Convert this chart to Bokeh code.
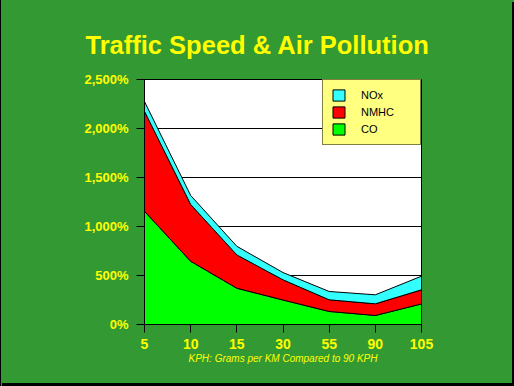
import numpy as np
from bokeh.plotting import figure
from bokeh.models import Range1d, FixedTicker, Legend, LegendItem, GlobalInlineStyleSheet
from bokeh.embed import file_html
from bokeh.resources import INLINE

# ---- data ----
speeds = ["5", "10", "15", "30", "55", "90", "105"]
co = [1155, 645, 370, 250, 133, 92, 210]
nmhc = [1020, 580, 340, 206, 119, 119, 144]
nox = [100, 92, 88, 74, 85, 92, 139]
y_ticks = [0, 500, 1000, 1500, 2000, 2500]
y_labels = ["0%", "500%", "1,000%", "1,500%", "2,000%", "2,500%"]
series_names = ["CO", "NMHC", "NOx"]
series_colors = ["#00FF00", "#FF0000", "#33FFFF"]

BG = "#339933"
YEL = "#FFFF00"
FONT = "Liberation Sans"

x = list(range(len(speeds)))

p = figure(width=514, height=386, output_backend="svg", toolbar_location=None,
           x_range=Range1d(0, len(speeds) - 1), y_range=Range1d(0, 2500),
           min_border_left=144, min_border_right=93, min_border_top=79, min_border_bottom=62,
           background_fill_color="white", border_fill_color=BG)
p.outline_line_color = "black"
p.outline_line_alpha = 1

# title
p.title.text = "Traffic Speed & Air Pollution"
p.title.text_color = YEL
p.title.text_font = FONT
p.title.text_font_style = "bold"
p.title.text_font_size = "25.5px"
p.title.align = "left"
p.title.offset = -59
p.title.standoff = 42

# stacked areas
base = np.zeros(len(x))
rends = {}
for name, vals, col in zip(series_names, [co, nmhc, nox], series_colors):
    top = base + np.array(vals, dtype=float)
    xs = x + x[::-1]
    ys = list(top) + list(base[::-1])
    rends[name] = p.patch(xs, ys, fill_color=col, fill_alpha=1, line_color="black", line_width=1)
    base = top

legend = Legend(items=[LegendItem(label=n, renderers=[rends[n]]) for n in ["NOx", "NMHC", "CO"]],
                location="top_right", margin=0, padding=8, spacing=3,
                glyph_width=15, glyph_height=14, label_height=14, label_width=51,
                label_standoff=15, label_text_font=FONT, label_text_font_size="11px",
                label_text_color="black", border_line_color="black", border_line_width=1,
                background_fill_color="#FFFF80", background_fill_alpha=1)
p.add_layout(legend)

# axes
for ax in (p.xaxis, p.yaxis):
    ax.axis_line_color = "black"
    ax.major_tick_line_color = "black"
    ax.major_tick_out = 8
    ax.major_tick_in = 0
    ax.minor_tick_line_color = None
    ax.major_label_text_color = YEL
    ax.major_label_text_font = FONT
    ax.major_label_text_font_style = "bold"

p.xaxis.ticker = FixedTicker(ticks=x)
p.xaxis.major_label_overrides = {i: s for i, s in zip(x, speeds)}
p.xaxis.major_label_text_font_size = "14px"
p.xaxis.major_label_standoff = 6
p.xaxis.axis_label = "KPH: Grams per KM Compared to 90 KPH"
p.xaxis.axis_label_text_color = YEL
p.xaxis.axis_label_text_font = FONT
p.xaxis.axis_label_text_font_style = "italic"
p.xaxis.axis_label_text_font_size = "10px"
p.xaxis.axis_label_standoff = 1

p.yaxis.ticker = FixedTicker(ticks=y_ticks)
p.yaxis.major_label_overrides = {t: l for t, l in zip(y_ticks, y_labels)}
p.yaxis.major_label_text_font_size = "13px"
p.yaxis.major_label_standoff = 8

p.xgrid.visible = False
p.ygrid.ticker = FixedTicker(ticks=y_ticks)
p.ygrid.grid_line_color = "black"
p.ygrid.grid_line_alpha = 1

p.stylesheets = [GlobalInlineStyleSheet(css="""
html, body { background-color: #339933; }
html::before { content: ""; position: fixed; z-index: 10; left: 0; top: 0; width: 1px; bottom: 0; background: #000; }
html::after { content: ""; position: fixed; z-index: 10; right: 0; top: 2px; width: 2px; bottom: 0; background: #000; }
body::after { content: ""; position: fixed; z-index: 10; left: 2px; right: 0; bottom: 0; height: 3px; background: #000; }
""")]

open("out.html", "w").write(file_html(p, INLINE))
